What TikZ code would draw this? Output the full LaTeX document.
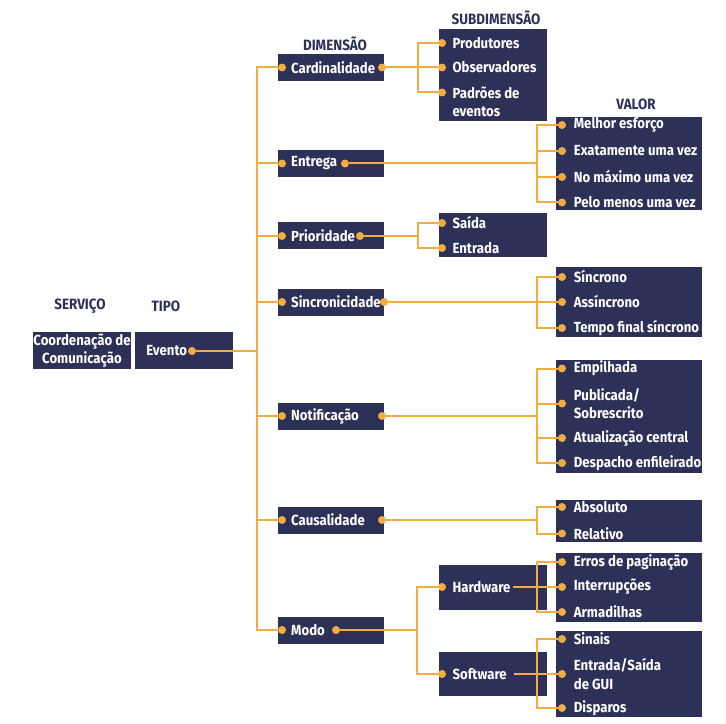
\documentclass[tikz,border=0pt]{standalone}
\usepackage{fontspec}
\setmainfont{Fira Sans}[FakeStretch=0.9]
\usepackage{tikz}
\usetikzlibrary{positioning}

\definecolor{navy}{HTML}{2D3158}
\definecolor{amber}{HTML}{F2AC3F}

\tikzset{
  box/.style={fill=navy},
  link/.style={draw=amber, line width=1.5pt},
  dot/.style={circle, fill=amber, inner sep=0pt, minimum size=6pt},
  item/.style={text=white, font=\fontsize{11}{14}\selectfont\bfseries, inner sep=0pt, align=left},
  head/.style={text=navy, font=\fontsize{11.2}{12}\selectfont\bfseries, inner sep=0pt}
}

\begin{document}
\begin{tikzpicture}[x=0.75pt,y=-0.75pt]
\useasboundingbox (0,0) rectangle (726,724);

% headings
\node[head] (h-serv) at (80,306) {SERVIÇO};
\node[head] (h-tipo) at (166,306) {TIPO};
\node[head] (h-dim) at (335,44) {DIMENSÃO};
\node[head] (h-sub) at (496,18) {SUBDIMENSÃO};
\node[head] (h-val) at (636,104) {VALOR};

% boxes
\fill[box] (33,332) rectangle (131,369);
\fill[box] (135,332) rectangle (233,369);
\foreach \y in {67.5,163.5,236,302,416,520,630}
  \fill[box] (278,\y-13.5) rectangle (384,\y+13.5);
\fill[box] (439,29) rectangle (547,121);
\fill[box] (439,213) rectangle (547,257);
\fill[box] (439,565) rectangle (547,610);
\fill[box] (439,652) rectangle (547,696);
\fill[box] (556,117) rectangle (702,210);
\fill[box] (556,267) rectangle (702,337);
\fill[box] (556,360) rectangle (702,473);
\fill[box] (556,500) rectangle (702,542);
\fill[box] (556,553) rectangle (702,622);
\fill[box] (556,631) rectangle (702,717);

% service and type
\node[item, align=center] (serv) at (82,350.5) {Coordenação de\\Comunicação};
\node[item, anchor=west] (evento) at (146,351) {Evento};
\node[dot] (ev-d) at (192,351) {};

% dimensions
\foreach \n/\t/\y/\r in {card/Cardinalidade/67.5/382, entr/Entrega/163.5/345,
    prio/Prioridade/236/360, sinc/Sincronicidade/302/384, noti/Notificação/416/382,
    caus/Causalidade/520/382, modo/Modo/630/336}{
  \node[dot] (\n-l) at (282,\y) {};
  \node[item, right=3.5pt of \n-l] (\n) {\t};
  \node[dot] (\n-r) at (\r,\y) {};
}

% subdimensions
\foreach \n/\t/\y in {prod/Produtores/43, obs/Observadores/67.5,
    sai/Saída/223, ent/Entrada/248, hw/Hardware/587, sw/Software/674}{
  \node[dot] (\n-d) at (442,\y) {};
  \node[item, right=4.5pt of \n-d] (\n) {\t};
}
\node[dot] (pad-d) at (442,92.5) {};
\node[item, right=4.5pt of pad-d, yshift=-7pt] (pad) {Padrões de\\eventos};

% values
\foreach \n/\t/\y in {mel/Melhor esforço/125, exa/Exatamente uma vez/151,
    nom/No máximo uma vez/177, pel/Pelo menos uma vez/202.5,
    sin/Síncrono/277, ass/Assíncrono/302, tem/Tempo final síncrono/328,
    emp/Empilhada/368.5, pub/{Publicada/\\Sobrescrito}/403.5,
    atu/Atualização central/438, des/Despacho enfileirado/463,
    abs/Absoluto/507, rel/Relativo/533.5,
    err/Erros de paginação/562, int/Interrupções/587, arm/Armadilhas/612,
    sna/Sinais/639, gui/{Entrada/Saída\\de GUI}/674, dis/Disparos/708}{
  \node[dot] (\n-d) at (562,\y) {};
  \node[item, right=5.5pt of \n-d] (\n) {\t};
}

% trunk
\coordinate (tr) at (257,351);
\draw[link] (ev-d) -- (tr);
\draw[link] (card-l) -| (tr) |- (modo-l);
\foreach \n in {entr,prio,sinc,noti,caus}
  \draw[link] (\n-l) -- (\n-l -| tr);

% cardinalidade
\coordinate (cj) at (418,67.5);
\draw[link] (card-r) -- (obs-d);
\draw[link] (prod-d) -| (cj) |- (pad-d);

% entrega
\coordinate (ej) at (537,163.5);
\draw[link] (entr-r) -- (ej);
\draw[link] (mel-d) -| (ej) |- (pel-d);
\draw[link] (exa-d) -- (exa-d -| ej);
\draw[link] (nom-d) -- (nom-d -| ej);

% prioridade
\coordinate (pj) at (418,236);
\draw[link] (prio-r) -- (pj);
\draw[link] (sai-d) -| (pj) |- (ent-d);

% sincronicidade
\coordinate (sj) at (537,302);
\draw[link] (sinc-r) -- (ass-d);
\draw[link] (sin-d) -| (sj) |- (tem-d);

% notificacao
\coordinate (nj) at (537,416);
\draw[link] (noti-r) -- (nj);
\draw[link] (emp-d) -| (nj) |- (des-d);
\draw[link] (pub-d) -- (pub-d -| nj);
\draw[link] (atu-d) -- (atu-d -| nj);

% causalidade
\coordinate (kj) at (537,520);
\draw[link] (caus-r) -- (kj);
\draw[link] (abs-d) -| (kj) |- (rel-d);

% modo
\coordinate (mj) at (417,630);
\draw[link] (modo-r) -- (mj);
\draw[link] (hw-d) -| (mj) |- (sw-d);

% hardware / software
\coordinate (hj) at (537,587);
\draw[link] ([xshift=2pt]hw.east) -- (int-d);
\draw[link] (err-d) -| (hj) |- (arm-d);
\coordinate (wj) at (537,674);
\draw[link] ([xshift=5pt]sw.east) -- (gui-d);
\draw[link] (sna-d) -| (wj) |- (dis-d);
\end{tikzpicture}
\end{document}
